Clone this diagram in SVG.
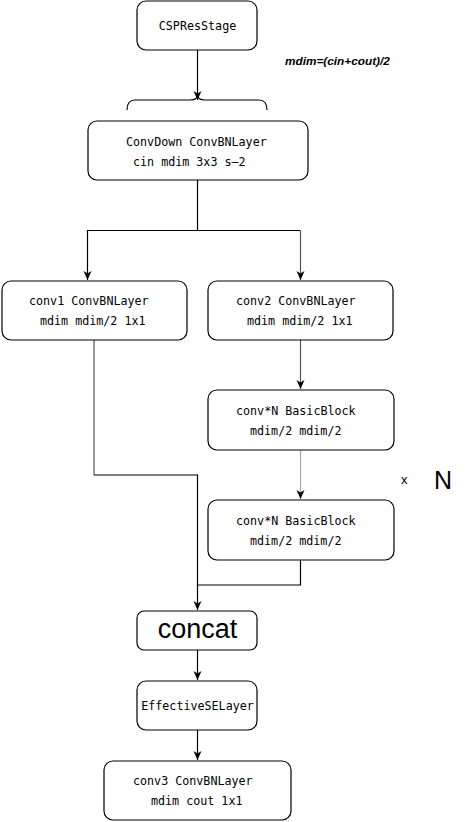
<svg xmlns="http://www.w3.org/2000/svg" width="465" height="822" viewBox="0 0 465 822">
<style>
.box{fill:#fff;stroke:#000;stroke-width:1.2}
.t{font-family:"DejaVu Sans Mono","Liberation Mono",monospace;font-size:11.7px;fill:#000}
.e{fill:none;stroke:#000;stroke-width:1.2}
.g{stroke:#555}
.lg{stroke:#aaa}
</style>
<defs>
<marker id="a" markerUnits="userSpaceOnUse" markerWidth="10" markerHeight="10" viewBox="0 0 10 10" refX="9" refY="5" orient="auto">
<path d="M0,1 L9,5 L0,9 L2.5,5 z" fill="#000"/>
</marker>
</defs>
<rect width="465" height="822" fill="#fff"/>
<g id="connectors">
<path class="e" d="M197.5,50 V100" marker-end="url(#a)"/>
<path class="e" d="M127,110 Q127,100 135,100 H190 Q197.5,100 197.5,95 Q197.5,100 205,100 H259 Q267,100 267,110"/>
<path class="e" d="M197.5,180 V230.5 H87.5 V280" marker-end="url(#a)"/>
<path class="e" d="M197.5,230.5 H300.5"/>
<path class="e g" d="M300.5,230.5 V280" marker-end="url(#a)"/>
<path class="e g" d="M94,340 V475"/>
<path class="e" d="M94,475 H197.5 V610" marker-end="url(#a)"/>
<path class="e g" d="M300.5,340 V389" marker-end="url(#a)"/>
<path class="e lg" d="M300.5,450 V499" marker-end="url(#a)"/>
<path class="e" d="M300.5,560 V585 H197.5"/>
<path class="e" d="M197.5,650 V680" marker-end="url(#a)"/>
<path class="e" d="M197.5,730 V760" marker-end="url(#a)"/>
</g>
<g id="csp">
<rect class="box" x="137" y="1" width="120" height="49" rx="9"/>
<text class="t" x="197.5" y="30" text-anchor="middle">CSPResStage</text>
</g>
<g id="note">
<text x="285" y="65" font-family="'Liberation Sans',Arial,sans-serif" font-size="11.8px" font-weight="bold" font-style="italic">mdim=(cin+cout)/2</text>
</g>
<g id="convdown">
<rect class="box" x="88" y="121" width="220" height="59" rx="9"/>
<text class="t" x="126" y="146">ConvDown ConvBNLayer</text>
<text class="t" x="133" y="166">cin mdim 3x3 s–2</text>
</g>
<g id="conv1">
<rect class="box" x="2" y="281" width="185" height="59" rx="9"/>
<text class="t" x="29" y="305">conv1 ConvBNLayer</text>
<text class="t" x="40" y="325">mdim mdim/2 1x1</text>
</g>
<g id="conv2">
<rect class="box" x="208" y="281" width="185" height="59" rx="9"/>
<text class="t" x="236" y="305">conv2 ConvBNLayer</text>
<text class="t" x="247" y="325">mdim mdim/2 1x1</text>
</g>
<g id="block1">
<rect class="box" x="208" y="390" width="186" height="60" rx="9"/>
<text class="t" x="236" y="415">conv*N BasicBlock</text>
<text class="t" x="250" y="435">mdim/2 mdim/2</text>
</g>
<g id="block2">
<rect class="box" x="208" y="500" width="186" height="60" rx="9"/>
<text class="t" x="236" y="525">conv*N BasicBlock</text>
<text class="t" x="250" y="545">mdim/2 mdim/2</text>
</g>
<g id="xn">
<text x="401" y="484" font-family="'Liberation Sans',Arial,sans-serif" font-size="13px">x</text>
<text x="434" y="489" font-family="'Liberation Sans',Arial,sans-serif" font-size="25px">N</text>
</g>
<g id="concat">
<rect class="box" x="137" y="611" width="120" height="39" rx="7"/>
<text x="197.5" y="638" text-anchor="middle" font-family="'Liberation Sans',Arial,sans-serif" font-size="27px">concat</text>
</g>
<g id="se">
<rect class="box" x="137" y="681" width="120" height="49" rx="9"/>
<text class="t" x="197.5" y="710" text-anchor="middle" font-size="12px">EffectiveSELayer</text>
</g>
<g id="conv3">
<rect class="box" x="104" y="761" width="187" height="59" rx="9"/>
<text class="t" x="133" y="785">conv3 ConvBNLayer</text>
<text class="t" x="151" y="805">mdim cout 1x1</text>
</g>
</svg>
